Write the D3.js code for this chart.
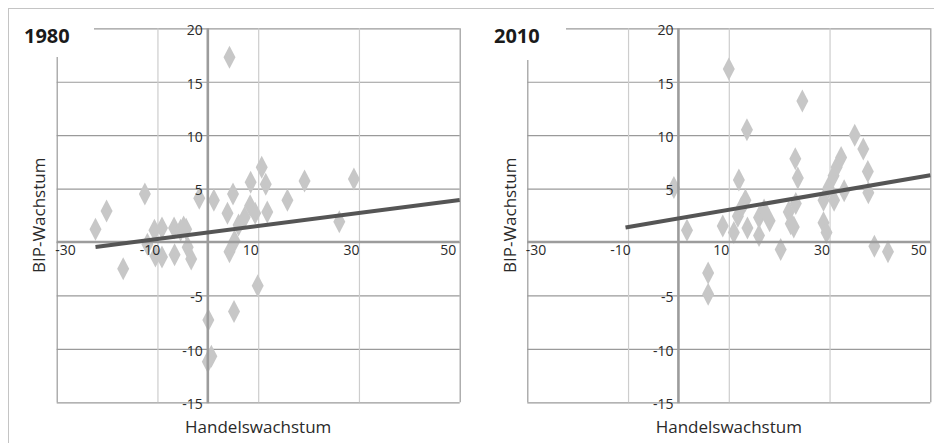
<!DOCTYPE html>
<html>
<head>
<meta charset="utf-8">
<script src="https://cdn.jsdelivr.net/npm/d3@7"></script>
<style>
  html, body { margin: 0; padding: 0; background: #fff; }
  svg { display: block; font-family: "Open Sans", "DejaVu Sans", sans-serif; }
</style>
</head>
<body>
<svg id="chart" width="934" height="443"></svg>
<script>
// Trade growth (x) vs. GDP growth (y), one scatter per year
const years = ["1980", "2010"];

const trade1980 = [-22.3, -20.1, -16.8, -12.5, -12.0, -10.6, -9.1, -10.4, -9.1, -6.7,
                   -6.6, -5.4, -4.3, -4.0, -3.3, -1.7, 1.2, 3.9, 5.0, 4.3,
                   5.3, 6.1, 5.2, 0.1, 0.7, 0.0, 7.3, 8.5, 8.4, 9.4,
                   10.7, 11.5, 11.8, 9.9, 15.8, 19.2, 26.1, 29.0, 4.3, -4.8];
const gdp1980   = [1.2, 2.9, -2.5, 4.5, -0.2, 1.1, 1.3, -1.3, -1.4, 1.3,
                   -1.2, 1.1, 1.2, -0.5, -1.6, 4.1, 3.9, 2.7, 4.5, -0.9,
                   0.1, 1.6, -6.5, -7.3, -10.7, -11.2, 2.3, 5.6, 3.4, 2.7,
                   7.0, 5.4, 2.8, -4.1, 3.9, 5.7, 1.9, 5.9, 17.3, 1.4];

const trade2010 = [-0.9, 1.7, 5.9, 5.9, 8.8, 10.0, 11.0, 11.8, 12.0, 13.3,
                   13.6, 13.7, 16.0, 16.0, 17.0, 18.1, 20.3, 21.9, 22.3, 22.9,
                   23.3, 23.2, 23.7, 24.6, 28.8, 28.8, 29.4, 29.8, 30.8, 31.4,
                   32.3, 32.9, 30.9, 35.0, 36.7, 37.6, 37.7, 38.9, 41.6, 12.5];
const gdp2010   = [5.1, 1.1, -2.9, -4.9, 1.5, 16.2, 0.9, 2.4, 5.8, 3.9,
                   10.5, 1.3, 0.6, 2.3, 3.0, 2.0, -0.7, 2.8, 1.7, 1.4,
                   3.6, 7.8, 6.0, 13.2, 3.9, 1.8, 0.9, 5.1, 6.2, 7.0,
                   7.9, 4.8, 3.9, 10.0, 8.7, 6.6, 4.6, -0.4, -0.9, 3.2];

// Linear trend line end points
const trendTrade1980 = [-22.3, 50];
const trendGdp1980   = [-0.47, 3.93];
const trendTrade2010 = [-10.5, 50];
const trendGdp2010   = [1.35, 6.25];

const xTicks = [-30, -10, 10, 30, 50];
const yTicks = [-15, -10, -5, 0, 5, 10, 15, 20];
const yTickLabels = [-15, -10, -5, 5, 10, 15, 20];
const xTitle = "Handelswachstum";
const yTitle = "BIP-Wachstum";

const panels = [
  { year: years[0], trade: trade1980, gdp: gdp1980, tx: trendTrade1980, ty: trendGdp1980 },
  { year: years[1], trade: trade2010, gdp: gdp2010, tx: trendTrade2010, ty: trendGdp2010 }
];

const svg = d3.select("#chart");
const W = 934, H = 443;

// outer frame (top and left rules)
svg.append("line").attr("x1", 8).attr("x2", W).attr("y1", 8.5).attr("y2", 8.5)
  .attr("stroke", "#c4c4c4").attr("stroke-width", 1);
svg.append("line").attr("x1", 8.5).attr("x2", 8.5).attr("y1", 8).attr("y2", H)
  .attr("stroke", "#c4c4c4").attr("stroke-width", 1);

const plotW = 403, plotTop = 28.3, plotBottom = 402.3;
const panelLeft = [56.7, 527.3];

const fmt = v => (v < 0 ? "-" + Math.abs(v) : String(v));
const diamond = (w, h) => `M0,${-h / 2}L${w / 2},0L0,${h / 2}L${-w / 2},0Z`;

panels.forEach((p, i) => {
  const L = panelLeft[i], R = L + plotW;
  const x = d3.scaleLinear().domain([-30, 50]).range([L, R]);
  const y = d3.scaleLinear().domain([-15, 20]).range([plotBottom, plotTop]);
  const g = svg.append("g");

  // horizontal grid
  g.append("g").attr("transform", `translate(${L},0)`)
    .call(d3.axisLeft(y).tickValues(yTicks).tickSize(-plotW).tickFormat(""))
    .call(s => s.select(".domain").remove())
    .call(s => s.selectAll(".tick line").attr("stroke", "#9a9a9a").attr("stroke-width", 1.2));

  // vertical grid (lighter inside, darker border)
  g.append("g").attr("transform", `translate(0,${plotBottom})`)
    .call(d3.axisBottom(x).tickValues(xTicks).tickSize(-(plotBottom - plotTop)).tickFormat(""))
    .call(s => s.select(".domain").remove())
    .call(s => s.selectAll(".tick line")
      .attr("stroke", d => (d === -30 || d === 50) ? "#9a9a9a" : "#cdcdcd")
      .attr("stroke-width", 1.2));

  // white corner behind the year title
  g.append("rect").attr("x", L - 8).attr("y", plotTop - 8)
    .attr("width", (i === 0 ? 94 : 566) - (L - 8)).attr("height", (i === 0 ? 57 : 60) - (plotTop - 8))
    .attr("fill", "#fff");
  g.append("text").attr("x", i === 0 ? 24 : 494).attr("y", 43)
    .attr("font-size", 20).attr("font-weight", 700).attr("fill", "#1a1a1a")
    .text(p.year);

  // scatter points
  const pts = p.trade.map((t, k) => ({ t, v: p.gdp[k] }));
  g.append("g").selectAll("path").data(pts).join("path")
    .attr("d", diamond(12, 23))
    .attr("transform", d => `translate(${x(d.t)},${y(d.v)})`)
    .attr("fill", "#c7c7c7");

  // zero axes
  g.append("line").attr("x1", x(0)).attr("x2", x(0)).attr("y1", plotTop).attr("y2", plotBottom + 1)
    .attr("stroke", "#9c9c9c").attr("stroke-width", 2.6);
  g.append("line").attr("x1", L).attr("x2", R).attr("y1", y(0)).attr("y2", y(0))
    .attr("stroke", "#9c9c9c").attr("stroke-width", 2.4);

  // trend line
  g.append("path")
    .datum(p.tx.map((t, k) => [t, p.ty[k]]))
    .attr("d", d3.line().x(d => x(d[0])).y(d => y(d[1])))
    .attr("stroke", "#555").attr("stroke-width", 4).attr("fill", "none");

  // y tick labels along the zero axis
  g.append("g").attr("transform", `translate(${x(0)},0)`)
    .call(d3.axisLeft(y).tickValues(yTickLabels).tickSize(0).tickPadding(5).tickFormat(fmt))
    .call(s => s.select(".domain").remove())
    .call(s => s.selectAll("text").attr("font-size", 14).attr("fill", "#2a2a2a")
      .attr("font-family", "'Open Sans', sans-serif").attr("dy", "0.45em"));

  // x tick labels below the zero axis, kept inside the plot width
  const xa = g.append("g").attr("transform", `translate(0,${y(0)})`)
    .call(d3.axisBottom(x).tickValues(xTicks).tickSize(0).tickPadding(3).tickFormat(fmt))
    .call(s => s.select(".domain").remove());
  xa.selectAll("text").attr("font-size", 14).attr("fill", "#2a2a2a")
    .attr("font-family", "'Open Sans', sans-serif").attr("dy", "0.71em")
    .each(function (d) {
      const w = this.getComputedTextLength();
      let c = x(d) - 8;
      c = Math.max(c, L - 2 + w / 2);
      c = Math.min(c, R - 4 - w / 2);
      d3.select(this).attr("x", c - x(d));
    });

  // axis titles
  g.append("text").attr("x", (L + R) / 2).attr("y", 433)
    .attr("text-anchor", "middle").attr("font-size", 17).attr("fill", "#2a2a2a")
    .text(xTitle);
  g.append("text")
    .attr("transform", `translate(${i === 0 ? 45 : 516},${(plotTop + plotBottom) / 2}) rotate(-90)`)
    .attr("text-anchor", "middle").attr("font-size", 17).attr("fill", "#2a2a2a")
    .text(yTitle);
});
</script>
</body>
</html>
